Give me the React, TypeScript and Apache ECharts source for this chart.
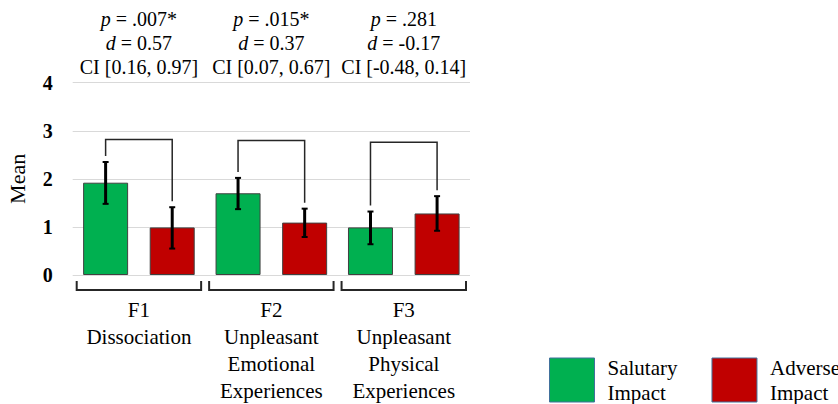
import React, { useEffect, useRef } from "react";
import * as echarts from "echarts";

const categories = [
  "F1\nDissociation",
  "F2\nUnpleasant\nEmotional\nExperiences",
  "F3\nUnpleasant\nPhysical\nExperiences",
];
const pValues = [".007*", ".015*", ".281"];
const dValues = ["0.57", "0.37", "-0.17"];
const ciValues = ["[0.16, 0.97]", "[0.07, 0.67]", "[-0.48, 0.14]"];

const salutaryName = "Salutary Impact";
const adverseName = "Adverse Impact";
const salutary = [1.92, 1.7, 0.99];
const adverse = [0.99, 1.09, 1.28];
const salutaryLow = [1.48, 1.37, 0.64];
const salutaryHigh = [2.35, 2.02, 1.32];
const adverseLow = [0.55, 0.79, 0.92];
const adverseHigh = [1.41, 1.38, 1.64];
const bracketTop = [2.82, 2.8, 2.76];
const yTicks = [0, 1, 2, 3, 4];

const FONT = "'Liberation Serif', 'Times New Roman', serif";
const BAR_W = 45;
const BAR_GAP = 0.48;
const OFFSET = (BAR_W * (1 + BAR_GAP)) / 2;

export default function App() {
  const ref = useRef<HTMLDivElement>(null);
  useEffect(() => {
    if (!ref.current) return;
    const chart = echarts.init(ref.current, null, { renderer: "svg" });

    const errRender = (sign: number) => (params: any, api: any) => {
      const x = api.value(0);
      const pLo = api.coord([x, api.value(1)]);
      const pHi = api.coord([x, api.value(2)]);
      const cx = pLo[0] + sign * OFFSET;
      const st = { stroke: "#000", lineWidth: 3 };
      const cap = { stroke: "#000", lineWidth: 2 };
      return {
        type: "group",
        children: [
          { type: "line", shape: { x1: cx, y1: pLo[1], x2: cx, y2: pHi[1] }, style: st },
          { type: "line", shape: { x1: cx - 3, y1: pLo[1], x2: cx + 3, y2: pLo[1] }, style: cap },
          { type: "line", shape: { x1: cx - 3, y1: pHi[1], x2: cx + 3, y2: pHi[1] }, style: cap },
        ],
      };
    };

    const option: any = {
      animation: false,
      grid: { left: 72.7, right: 368, top: 82.7, bottom: 128, containLabel: false },
      legend: {
        data: [salutaryName, adverseName],
        left: 549,
        top: 355,
        width: 500,
        padding: 0,
        orient: "horizontal",
        itemWidth: 45,
        itemHeight: 44,
        itemGap: 34,
        icon: "rect",
        formatter: (n: string) => n.replace(" ", "\n"),
        itemStyle: { borderColor: "#41719c", borderWidth: 1 },
        textStyle: {
          fontFamily: FONT,
          fontSize: 21,
          lineHeight: 25,
          color: "#000",
          padding: [0, 0, 0, 8],
        },
      },
      xAxis: [
        {
          type: "category",
          data: categories,
          position: "bottom",
          axisLine: { show: false },
          axisTick: { show: false },
          axisLabel: {
            interval: 0,
            margin: 21,
            fontFamily: FONT,
            fontSize: 21,
            lineHeight: 27,
            color: "#000",
          },
        },
        {
          type: "category",
          data: pValues.map((p, i) => i),
          position: "top",
          axisLine: { show: false },
          axisTick: { show: false },
          axisLabel: {
            interval: 0,
            margin: 4,
            fontFamily: FONT,
            fontSize: 20,
            lineHeight: 24,
            color: "#000",
            formatter: (v: any, i: number) =>
              `{i|p} = ${pValues[i]}\n{i|d} = ${dValues[i]}\nCI ${ciValues[i]}`,
            rich: {
              i: { fontStyle: "italic", fontFamily: FONT, fontSize: 20, lineHeight: 24, color: "#000" },
            },
          },
        },
      ],
      yAxis: {
        type: "value",
        min: yTicks[0],
        max: yTicks[yTicks.length - 1],
        interval: 1,
        name: "Mean",
        nameLocation: "middle",
        nameGap: 44,
        nameRotate: 90,
        nameTextStyle: { fontFamily: FONT, fontSize: 22, color: "#000" },
        axisLine: { show: false },
        axisTick: { show: false },
        axisLabel: { fontFamily: FONT, fontSize: 20, fontWeight: "bold", color: "#000", margin: 20 },
        splitLine: { lineStyle: { color: "#d9d9d9", width: 1 } },
      },
      series: [
        {
          name: salutaryName,
          type: "bar",
          data: salutary,
          barWidth: BAR_W,
          barGap: `${BAR_GAP * 100}%`,
          itemStyle: { color: "#00b050", borderColor: "#404040", borderWidth: 1 },
        },
        {
          name: adverseName,
          type: "bar",
          data: adverse,
          barWidth: BAR_W,
          itemStyle: { color: "#c00000", borderColor: "#404040", borderWidth: 1 },
        },
        {
          name: "salutaryErr",
          type: "custom",
          z: 5,
          clip: false,
          renderItem: errRender(-1),
          encode: { x: 0, y: [1, 2] },
          data: salutary.map((_, i) => [i, salutaryLow[i], salutaryHigh[i]]),
        },
        {
          name: "adverseErr",
          type: "custom",
          z: 5,
          clip: false,
          renderItem: errRender(1),
          encode: { x: 0, y: [1, 2] },
          data: adverse.map((_, i) => [i, adverseLow[i], adverseHigh[i]]),
        },
        {
          name: "compare",
          type: "custom",
          z: 6,
          clip: false,
          encode: { x: 0, y: 1 },
          data: bracketTop.map((t, i) => [i, t, salutaryHigh[i], adverseHigh[i]]),
          renderItem: (params: any, api: any) => {
            const x = api.value(0);
            const top = api.coord([x, api.value(1)]);
            const l = api.coord([x, api.value(2)]);
            const r = api.coord([x, api.value(3)]);
            const lx = top[0] - OFFSET;
            const rx = top[0] + OFFSET;
            return {
              type: "polyline",
              shape: {
                points: [
                  [lx, l[1] - 6],
                  [lx, top[1]],
                  [rx, top[1]],
                  [rx, r[1] - 6],
                ],
              },
              style: { stroke: "#262626", lineWidth: 1.5, fill: null },
            };
          },
        },
        {
          name: "groups",
          type: "custom",
          z: 6,
          clip: false,
          encode: { x: 0, y: 1 },
          data: categories.map((_, i) => [i, 0]),
          renderItem: (params: any, api: any) => {
            const x = api.value(0);
            const p = api.coord([x, 0]);
            const w = api.size([1, 0])[0];
            const x1 = p[0] - w / 2 + 4;
            const x2 = p[0] + w / 2 - 4;
            const y1 = p[1] + 6;
            const y2 = p[1] + 15;
            return {
              type: "polyline",
              shape: { points: [[x1, y1], [x1, y2], [x2, y2], [x2, y1]] },
              style: { stroke: "#262626", lineWidth: 2, fill: null },
            };
          },
        },
      ],
    };
    chart.setOption(option);
    return () => chart.dispose();
  }, []);
  return (
    <div
      ref={ref}
      style={{ position: "fixed", left: 0, top: 0, width: 838, height: 404, background: "#fff" }}
    />
  );
}
